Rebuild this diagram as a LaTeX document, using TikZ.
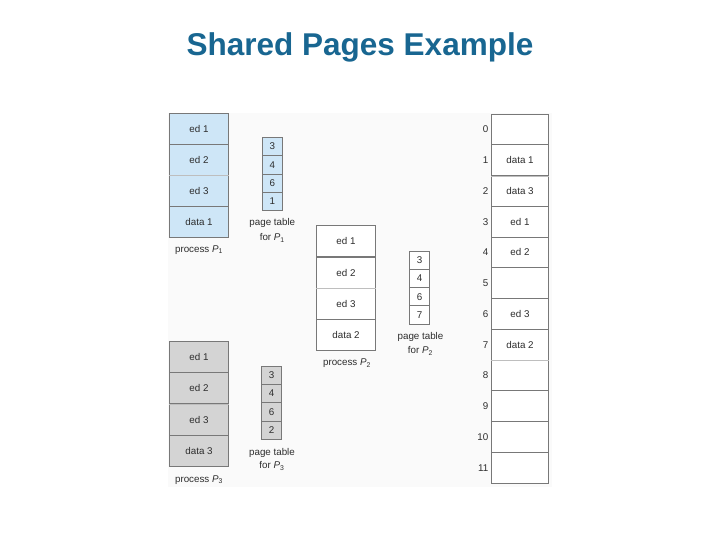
\documentclass[tikz,border=0pt]{standalone}
\usepackage{fontspec}
\setmainfont{Liberation Sans}
\definecolor{titleblue}{RGB}{24,102,145}
\definecolor{pblue}{RGB}{206,230,247}
\definecolor{pgray}{RGB}{212,212,212}
\definecolor{linegray}{RGB}{120,120,120}
\definecolor{lightline}{RGB}{190,190,190}
\definecolor{txt}{RGB}{45,45,45}
\definecolor{panel}{RGB}{250,250,250}
\tikzset{
  cell/.style={draw=linegray, line width=0.8pt, inner sep=0pt, minimum width=59pt, minimum height=31pt,
    font=\fontsize{9.8}{11}\selectfont, text=txt},
  ptcell/.style={cell, minimum width=20pt, minimum height=18.3pt},
  memcell/.style={cell, minimum width=56.6pt, minimum height=30.75pt, fill=white},
  lbl/.style={font=\fontsize{9.8}{11}\selectfont, text=txt, inner sep=0pt, align=center},
  light/.style={draw=lightline, line width=0.8pt},
}
\newcommand{\Pn}[1]{\textit{P}\textsubscript{#1}}
\begin{document}
\begin{tikzpicture}[x=1pt, y=-1pt]
\useasboundingbox (0,0) rectangle (720,540);
\fill[white] (0,0) rectangle (720,540);
\fill[panel] (168,113) rectangle (552,487);
\node[font=\fontsize{31.5}{36}\selectfont\bfseries, text=titleblue, anchor=base] (title) at (360,56) {Shared Pages Example};

% process P1
\node[cell, fill=pblue] (a1) at (199,129) {ed 1};
\node[cell, fill=pblue] (a2) at (199,160) {ed 2};
\node[cell, fill=pblue] (a3) at (199,191) {ed 3};
\node[cell, fill=pblue] (a4) at (199,222) {data 1};
\draw[light] (a2.south west) -- (a2.south east);
\node[lbl] (la) at (199,250) {process \Pn{1}};
% page table P1
\node[ptcell, fill=pblue] (t11) at (272.3,146.5) {3};
\node[ptcell, fill=pblue] (t12) at (272.3,164.8) {4};
\node[ptcell, fill=pblue] (t13) at (272.3,183.1) {6};
\node[ptcell, fill=pblue] (t14) at (272.3,201.4) {1};
\node[lbl] (lt1a) at (272.3,222.5) {page table};
\node[lbl] (lt1b) at (272.3,238) {for \Pn{1}};

% process P2
\node[cell, fill=white] (b1) at (346,241) {ed 1};
\node[cell, fill=white] (b2) at (346,272.5) {ed 2};
\node[cell, fill=white] (b3) at (346,304) {ed 3};
\node[cell, fill=white] (b4) at (346,335) {data 2};
\draw[light] (b2.south west) -- (b2.south east);
\node[lbl] (lb) at (347,363.5) {process \Pn{2}};
% page table P2
\node[ptcell, fill=white] (t21) at (419.7,260.1) {3};
\node[ptcell, fill=white] (t22) at (419.7,278.4) {4};
\node[ptcell, fill=white] (t23) at (419.7,296.7) {6};
\node[ptcell, fill=white] (t24) at (419.7,315) {7};
\node[lbl] (lt2a) at (420.5,336.5) {page table};
\node[lbl] (lt2b) at (420.5,351) {for \Pn{2}};

% process P3
\node[cell, fill=pgray] (c1) at (199,356.5) {ed 1};
\node[cell, fill=pgray] (c2) at (199,388) {ed 2};
\node[cell, fill=pgray] (c3) at (199,419.5) {ed 3};
\node[cell, fill=pgray] (c4) at (199,450.5) {data 3};
\draw[light] (c2.south west) -- (c2.south east);
\node[lbl] (lc) at (199,480) {process \Pn{3}};
% page table P3
\node[ptcell, fill=pgray] (t31) at (271.7,375.2) {3};
\node[ptcell, fill=pgray] (t32) at (271.7,393.5) {4};
\node[ptcell, fill=pgray] (t33) at (271.7,411.8) {6};
\node[ptcell, fill=pgray] (t34) at (271.7,430.1) {2};
\node[lbl] (lt3a) at (272,452.5) {page table};
\node[lbl] (lt3b) at (272,466) {for \Pn{3}};

% physical memory
\foreach \i/\t in {0/,1/data 1,2/data 3,3/ed 1,4/ed 2,5/,6/ed 3,7/data 2,8/,9/,10/,11/}{
  \node[memcell] (m\i) at (520,{129.4+30.75*\i}) {\t};
  \node[lbl, anchor=east] (n\i) at (488.5,{129.4+30.75*\i}) {\i};
}
\draw[light] (m1.south west) -- (m1.south east);
\draw[light] (m7.south west) -- (m7.south east);
\end{tikzpicture}
\end{document}
